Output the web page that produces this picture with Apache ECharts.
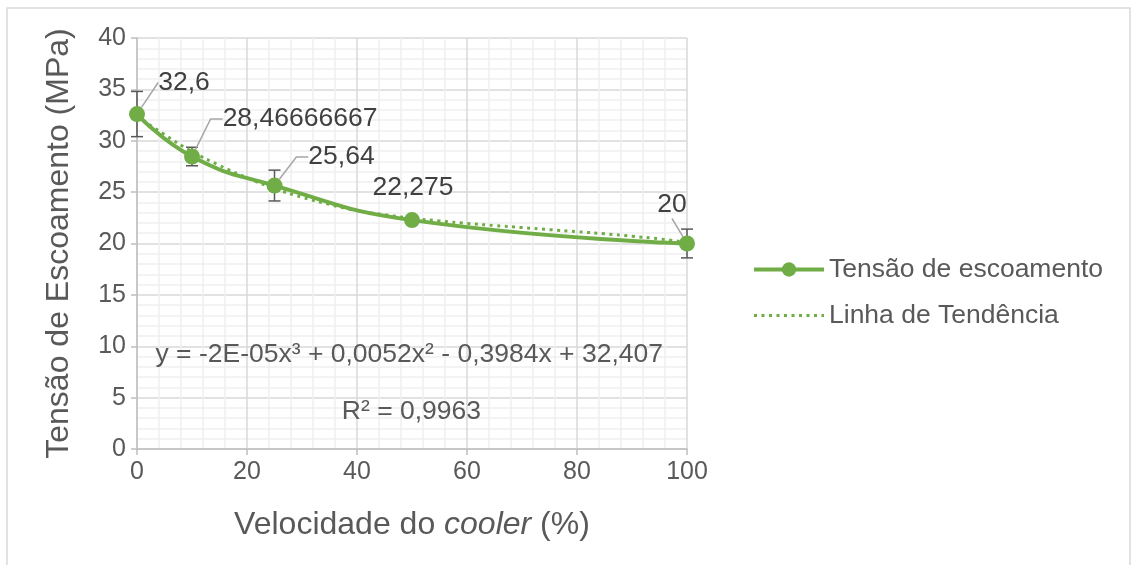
<!DOCTYPE html>
<html>
<head>
<meta charset="utf-8">
<script src="https://cdn.jsdelivr.net/npm/echarts@6/dist/echarts.min.js"></script>
<style>
html,body{margin:0;padding:0;background:#fff;}
#c{width:1134px;height:565px;}
</style>
</head>
<body>
<div id="c"></div>
<script>
// ---- data ----
var speeds = [0, 10, 25, 50, 100];
var tensao = [32.6, 28.46666667, 25.64, 22.275, 20];
var errBar = [2.2, 0.9, 1.5, 0.15, 1.4];
var labelTexts = ['32,6', '28,46666667', '25,64', '22,275', '20'];
var trendX = [0, 5, 10, 15, 20, 25, 30, 35, 40, 45, 50, 55, 60, 65, 70, 75, 80, 85, 90, 95, 100];
var trendY = [32.4, 30.6, 28.95, 27.6, 26.4, 25.35, 24.5, 23.8, 23.2, 22.8, 22.45, 22.2, 21.95, 21.75, 21.55, 21.35, 21.15, 20.95, 20.7, 20.45, 20.1];
var xTicks = [0, 20, 40, 60, 80, 100];
var yTicks = [0, 5, 10, 15, 20, 25, 30, 35, 40];
var seriesNames = ['Tensão de escoamento', 'Linha de Tendência'];
var equationText = 'y = -2E-05x³ + 0,0052x² - 0,3984x + 32,407';
var r2Text = 'R² = 0,9963';

// ---- styling (not data) ----
var labelOffsets = [[47, -5], [108, -11], [67, -2], [1, -6], [-15, -12]];
var labelLen2 = [0, 12, 12, 0, 0];
var showLine = [true, true, true, false, true];
var green = '#70ad47';
var font = '"Liberation Sans", Arial, sans-serif';

var mainData = speeds.map(function (x, i) {
  return {
    value: [x, tensao[i]],
    labelLine: { show: showLine[i], length2: labelLen2[i] }
  };
});
var errData = speeds.map(function (x, i) { return [x, tensao[i], errBar[i]]; });
var trendData = trendX.map(function (x, i) { return [x, trendY[i]]; });

var chart = echarts.init(document.getElementById('c'), null, { renderer: 'canvas' });
chart.setOption({
  animation: false,
  textStyle: { fontFamily: font },
  graphic: [{
    type: 'rect', shape: { x: 7, y: 8, width: 1123, height: 580 },
    style: { fill: 'none', stroke: '#d9d9d9', lineWidth: 1.5 }, silent: true, z: -10
  }],
  grid: { left: 137, right: 447, top: 38, bottom: 116, containLabel: false },
  legend: {
    orient: 'vertical', left: 747, top: 251, itemWidth: 70, itemHeight: 18, itemGap: 19,
    data: [
      { name: seriesNames[0], lineStyle: { width: 4 } },
      { name: seriesNames[1], itemStyle: { opacity: 0 }, lineStyle: { width: 3 } }
    ],
    textStyle: { fontSize: 26.5, color: '#595959', fontFamily: font }
  },
  xAxis: {
    type: 'value', min: xTicks[0], max: xTicks[xTicks.length - 1], interval: 20,
    name: '{n|Velocidade do }{i|cooler}{n| (%)}', nameLocation: 'middle', nameGap: 60,
    nameTextStyle: {
      rich: {
        n: { fontSize: 32, color: '#595959', fontFamily: font },
        i: { fontSize: 32, color: '#595959', fontFamily: font, fontStyle: 'italic' }
      }
    },
    axisLine: { show: true, lineStyle: { color: '#bfbfbf', width: 1.5 } },
    axisTick: { show: true, length: 6, lineStyle: { color: '#bfbfbf', width: 1.5 } },
    axisLabel: { fontSize: 25, color: '#595959', margin: 11, fontFamily: font },
    splitLine: { show: true, lineStyle: { color: '#d9d9d9', width: 1.5 } },
    minorTick: { show: false, splitNumber: 5 },
    minorSplitLine: { show: true, lineStyle: { color: '#f0f0f0', width: 1.5 } }
  },
  yAxis: {
    type: 'value', min: yTicks[0], max: yTicks[yTicks.length - 1], interval: 5,
    name: 'Tensão de Escoamento (MPa)', nameLocation: 'middle', nameGap: 62,
    nameTextStyle: { fontSize: 32, color: '#595959', fontFamily: font },
    axisLine: { show: true, lineStyle: { color: '#bfbfbf', width: 1.5 } },
    axisTick: { show: true, length: 6, lineStyle: { color: '#bfbfbf', width: 1.5 } },
    axisLabel: { fontSize: 25, color: '#595959', margin: 11, fontFamily: font },
    splitLine: { show: true, lineStyle: { color: '#d9d9d9', width: 1.5 } },
    minorTick: { show: false, splitNumber: 5 },
    minorSplitLine: { show: true, lineStyle: { color: '#f0f0f0', width: 1.5 } }
  },
  series: [
    {
      type: 'custom', name: 'err', z: 1, silent: true,
      renderItem: function (params, api) {
        var x = api.value(0), y = api.value(1), e = api.value(2);
        var top = api.coord([x, y + e]);
        var bot = api.coord([x, y - e]);
        var cw = 6;
        var st = { stroke: '#595959', lineWidth: 1.5 };
        return {
          type: 'group',
          children: [
            { type: 'line', shape: { x1: top[0], y1: top[1], x2: bot[0], y2: bot[1] }, style: st },
            { type: 'line', shape: { x1: top[0] - cw, y1: top[1], x2: top[0] + cw, y2: top[1] }, style: st },
            { type: 'line', shape: { x1: bot[0] - cw, y1: bot[1], x2: bot[0] + cw, y2: bot[1] }, style: st }
          ]
        };
      },
      data: errData
    },
    {
      type: 'line', name: seriesNames[1], z: 2,
      data: trendData, smooth: true, symbol: 'none',
      lineStyle: { color: green, width: 3, type: [3, 4.5] },
      itemStyle: { color: green },
      markPoint: {
        symbol: 'circle', symbolSize: 0, silent: true,
        label: { show: true, position: 'inside', fontSize: 26.5, color: '#595959', fontFamily: font },
        data: [
          { coord: [49.5, 9.15], label: { formatter: equationText } },
          { coord: [49.9, 3.6], label: { formatter: r2Text } }
        ]
      }
    },
    {
      type: 'line', name: seriesNames[0], z: 3,
      data: mainData, smooth: true,
      symbol: 'circle', symbolSize: 16,
      lineStyle: { color: green, width: 4 },
      itemStyle: { color: green },
      label: {
        show: true, position: 'top', fontSize: 26.5, color: '#404040', fontFamily: font,
        formatter: function (p) { return labelTexts[p.dataIndex]; }
      },
      labelLine: { show: true, lineStyle: { color: '#a6a6a6', width: 1.5 } },
      labelLayout: function (p) {
        var o = labelOffsets[p.dataIndex];
        return { dx: o[0], dy: o[1], hideOverlap: false };
      }
    }
  ]
});
</script>
</body>
</html>
